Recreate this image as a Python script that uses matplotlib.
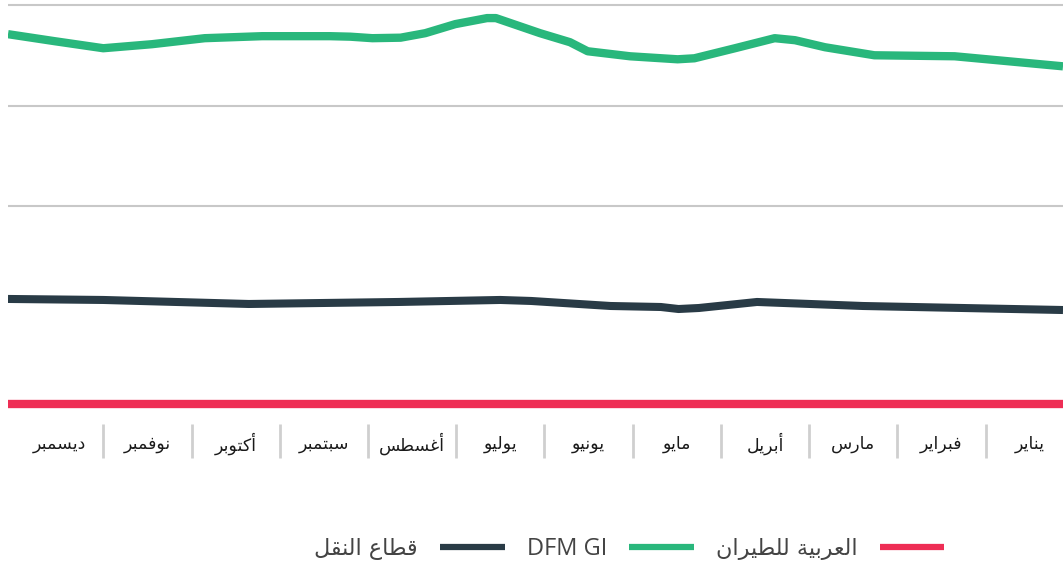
import numpy as np
import matplotlib
matplotlib.use("Agg")
import matplotlib.pyplot as plt
import matplotlib.transforms as mtransforms

# ---------------- data ----------------
months = ["يناير", "فبراير", "مارس", "أبريل", "مايو", "يونيو",
          "يوليو", "أغسطس", "سبتمبر", "أكتوبر", "نوفمبر", "ديسمبر"]

# x positions in month units (0 = start of January, axis runs right-to-left)
green_x = [12.08, 11.55, 11.0, 10.45, 9.85, 9.2, 8.43, 8.2, 7.95, 7.63, 7.35, 7.01,
           6.65, 6.55, 6.05, 5.71, 5.51, 5.03, 4.49, 4.3, 3.84, 3.39, 3.16, 2.82,
           2.26, 1.35, 0.122]
green_y = [371, 364, 357, 361, 367, 369, 369, 368.5, 367, 367.5, 372, 381,
           387, 387, 372, 363, 354, 349, 346, 347, 357, 367, 365, 358,
           350, 349, 339]

dark_x = [12.08, 11.0, 9.35, 7.65, 6.5, 6.15, 5.25, 4.68, 4.48, 4.25, 3.59, 2.39, 0.122]
dark_y = [107.5, 106.5, 102.5, 104.5, 106.5, 105.5, 100.5, 99.5, 97.5, 98.5, 104.5, 100.5, 96.5]

red_x = [12.08, 6.0, 0.122]
red_y = [3, 3, 3]

series_names = ["العربية للطيران", "DFM GI", "قطاع النقل"]
grid_levels = [200, 300, 400]

# ---------------- Arabic shaping (matplotlib has no shaping) ----------------
FORMS = {
    'ا': (0xFE8D, 0xFE8E, None, None), 'أ': (0xFE83, 0xFE84, None, None),
    'ب': (0xFE8F, 0xFE90, 0xFE91, 0xFE92), 'ة': (0xFE93, 0xFE94, None, None),
    'ت': (0xFE95, 0xFE96, 0xFE97, 0xFE98), 'ث': (0xFE99, 0xFE9A, 0xFE9B, 0xFE9C),
    'ج': (0xFE9D, 0xFE9E, 0xFE9F, 0xFEA0), 'ح': (0xFEA1, 0xFEA2, 0xFEA3, 0xFEA4),
    'خ': (0xFEA5, 0xFEA6, 0xFEA7, 0xFEA8), 'د': (0xFEA9, 0xFEAA, None, None),
    'ذ': (0xFEAB, 0xFEAC, None, None), 'ر': (0xFEAD, 0xFEAE, None, None),
    'ز': (0xFEAF, 0xFEB0, None, None), 'س': (0xFEB1, 0xFEB2, 0xFEB3, 0xFEB4),
    'ش': (0xFEB5, 0xFEB6, 0xFEB7, 0xFEB8), 'ص': (0xFEB9, 0xFEBA, 0xFEBB, 0xFEBC),
    'ض': (0xFEBD, 0xFEBE, 0xFEBF, 0xFEC0), 'ط': (0xFEC1, 0xFEC2, 0xFEC3, 0xFEC4),
    'ظ': (0xFEC5, 0xFEC6, 0xFEC7, 0xFEC8), 'ع': (0xFEC9, 0xFECA, 0xFECB, 0xFECC),
    'غ': (0xFECD, 0xFECE, 0xFECF, 0xFED0), 'ف': (0xFED1, 0xFED2, 0xFED3, 0xFED4),
    'ق': (0xFED5, 0xFED6, 0xFED7, 0xFED8), 'ك': (0xFED9, 0xFEDA, 0xFEDB, 0xFEDC),
    'ل': (0xFEDD, 0xFEDE, 0xFEDF, 0xFEE0), 'م': (0xFEE1, 0xFEE2, 0xFEE3, 0xFEE4),
    'ن': (0xFEE5, 0xFEE6, 0xFEE7, 0xFEE8), 'ه': (0xFEE9, 0xFEEA, 0xFEEB, 0xFEEC),
    'و': (0xFEED, 0xFEEE, None, None), 'ي': (0xFEF1, 0xFEF2, 0xFEF3, 0xFEF4),
    'ى': (0xFEEF, 0xFEF0, None, None),
}


def shape(text):
    if not any(c in FORMS for c in text):
        return text
    out = []
    for i, c in enumerate(text):
        if c not in FORMS:
            out.append(c)
            continue
        prev = text[i - 1] if i > 0 else None
        nxt = text[i + 1] if i + 1 < len(text) else None
        jp = prev in FORMS and FORMS[prev][2] is not None
        jn = nxt in FORMS and FORMS[c][2] is not None
        f = FORMS[c]
        if jp and jn:
            code = f[3]
        elif jp:
            code = f[1]
        elif jn:
            code = f[2]
        else:
            code = f[0]
        out.append(chr(code))
    return ''.join(reversed(out))


# ---------------- figure ----------------
plt.rcParams['font.family'] = ['DejaVu Sans']
W, H = 1063, 570
fig = plt.figure(figsize=(W / 100, H / 100), dpi=100)
ax = fig.add_axes([8 / W, (H - 410) / H, (W - 8) / W, 410 / H])

GREEN = '#29b77c'
DARK = '#293b46'
RED = '#ee2e55'

l_red, = ax.plot(red_x, red_y, color=RED, lw=6.0, solid_capstyle='butt', zorder=4, clip_on=False)
l_green, = ax.plot(green_x, green_y, color=GREEN, lw=6.0, solid_capstyle='butt',
                   solid_joinstyle='round', zorder=3)
l_dark, = ax.plot(dark_x, dark_y, color=DARK, lw=5.8, solid_capstyle='butt',
                  solid_joinstyle='round', zorder=3)

ax.set_xlim(max(green_x), min(green_x))
ax.set_ylim(-3, 405)

ax.set_yticks(grid_levels)
ax.yaxis.grid(True, color='#c8c8c8', lw=1.5)
ax.tick_params(axis='y', left=False, labelleft=False)
ax.set_axisbelow(True)

ax.set_xticks(np.arange(len(months)) + 0.5)
ax.set_xticklabels([shape(m) for m in months], fontsize=12.5, color='#1a1a1a')
ax.tick_params(axis='x', length=0, pad=24.5)
for lab in ax.get_xticklabels():
    lab.set_verticalalignment('center')

for s in ax.spines.values():
    s.set_visible(False)

# separators between month labels
trans = mtransforms.blended_transform_factory(ax.transData, ax.transAxes)
ax.vlines(np.arange(1, len(months)), -0.034, -0.117, transform=trans,
          color='#cfcfcf', lw=2, clip_on=False)

# legend (handles to the right of labels, RTL order)
handles = [l_dark, l_green, l_red]
labels = [shape(series_names[2]), series_names[1], shape(series_names[0])]
leg = fig.legend(handles, labels, loc='center', bbox_to_anchor=(0.592, 0.037),
                 ncol=3, frameon=False, markerfirst=False, fontsize=16,
                 handlelength=2.9, handletextpad=1.0, columnspacing=1.0)
for t in leg.get_texts():
    t.set_color('#444444')
leg.get_texts()[1].set_fontfamily(['Open Sans', 'DejaVu Sans'])
leg.get_texts()[1].set_fontsize(17)
for h in leg.legend_handles:
    h.set_linewidth(4.5)

fig.savefig('out.png', dpi=100)
